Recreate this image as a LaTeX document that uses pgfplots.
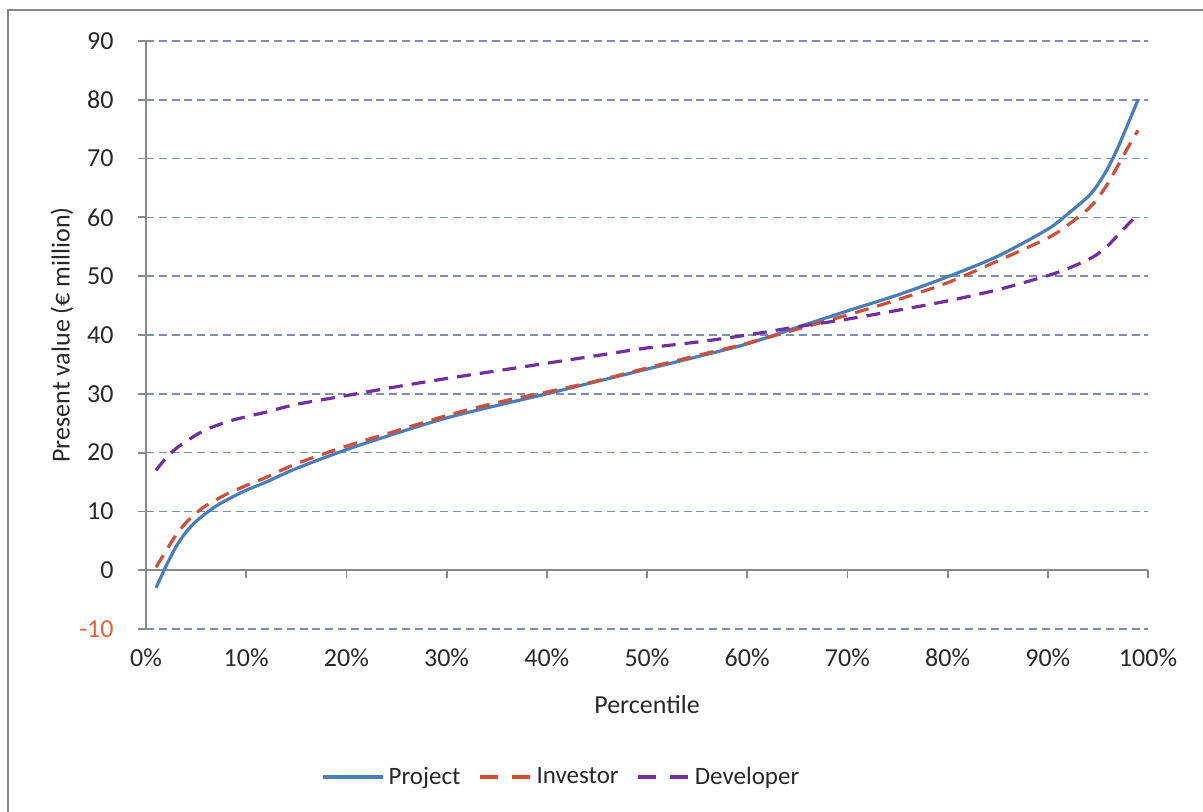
\documentclass[border=0pt]{standalone}
\usepackage{fontspec}
\setmainfont{Carlito}
\usepackage{pgfplots}
\pgfplotsset{compat=1.18}
\definecolor{proj}{RGB}{74,126,187}
\definecolor{inv}{RGB}{205,80,60}
\definecolor{dev}{RGB}{112,48,160}
\definecolor{gridc}{RGB}{125,140,190}
\definecolor{axc}{RGB}{137,137,137}
\definecolor{txt}{RGB}{40,40,40}
\definecolor{negred}{RGB}{228,100,60}
\definecolor{framec}{RGB}{134,134,134}

\pgfplotsset{
  legsolid/.style={legend image code/.code={\draw[##1] (0pt,0pt) -- (30pt,0pt);}},
  legdash/.style={legend image code/.code={\draw[##1, dash pattern=on 9pt off 7pt] (0pt,0pt) -- (25.5pt,0pt);}},
}

\pgfplotstableread{
x y
1 -3.0
2 0.7
3 4.0
4 6.5
5 8.3
6 9.7
7 10.9
8 11.9
10 13.6
12 15.0
15 17.3
20 20.5
25 23.3
30 25.9
35 28.0
40 30.0
45 32.1
50 34.2
55 36.3
60 38.5
65 41.3
70 44.1
75 46.8
80 49.9
85 53.4
90 58.0
92 60.6
94 63.5
95 65.6
96 68.4
97 71.9
98 75.9
99 80.0
}\project

\pgfplotstableread{
x y
1 0.5
2 3.3
3 6.0
4 8.1
5 9.7
6 11.0
8 12.9
10 14.4
12 15.8
15 18.1
20 21.1
25 23.7
30 26.3
35 28.5
40 30.3
45 32.2
50 34.4
55 36.5
60 38.6
65 41.0
70 43.4
75 46.0
80 48.9
85 52.6
90 56.5
92 58.7
94 61.4
95 63.3
96 65.8
97 68.8
98 71.9
99 74.8
}\investor

\pgfplotstableread{
x y
1 17.0
2 19.1
3 20.7
4 21.9
5 23.0
6 23.9
8 25.2
10 26.1
12 26.9
15 28.2
20 29.7
25 31.2
30 32.6
35 33.9
40 35.2
45 36.5
50 37.8
55 38.8
60 40.0
65 41.4
70 42.7
75 44.2
80 45.8
85 47.7
90 50.1
92 51.3
94 52.8
95 53.8
96 55.2
97 57.0
98 58.8
99 60.5
}\developer

\begin{document}
\begin{tikzpicture}
\begin{axis}[name=ax,
  scale only axis, width=501pt, height=294pt,
  xmin=0, xmax=100, ymin=-10, ymax=90,
  axis x line*=middle, axis y line*=left,
  hide obscured x ticks=false, hide obscured y ticks=false,
  axis line style={axc, line width=0.9pt},
  xtick={0,10,...,100}, ytick={-10,0,...,90},
  xticklabels={0\%,10\%,20\%,30\%,40\%,50\%,60\%,70\%,80\%,90\%,100\%},
  yticklabels={\textcolor{negred}{-10},0,10,20,30,40,50,60,70,80,90},
  tick align=outside, major tick length=4pt,
  tick style={axc, line width=0.9pt},
  ymajorgrids,
  grid style={gridc, line width=0.8pt, dash pattern=on 4pt off 2.4pt},
  xticklabel style={font=\fontsize{13}{15}\selectfont, text=txt, anchor=center, inner sep=0pt, yshift=-40pt},
  yticklabel style={font=\fontsize{13}{15}\selectfont, text=txt, anchor=east, inner sep=0pt, xshift=-12pt},
  every axis x label/.style={at={(axis description cs:0.5,-0.1293)}, anchor=center, font=\fontsize{13}{15}\selectfont, text=txt},
  every axis y label/.style={at={(axis description cs:-0.0838,0.5)}, rotate=90, anchor=center, font=\fontsize{13}{15}\selectfont, text=txt},
  xlabel={Percentile},
  ylabel={Present value (€ million)},
  legend columns=3,
  legend style={at={(axis description cs:0.1747,-0.2517)}, anchor=west, draw=none, fill=none,
    inner sep=0pt, font=\fontsize{12.5}{15}\selectfont, text=txt,
    /tikz/every even column/.append style={column sep=7pt}},
]
\addplot[proj, line width=1.6pt, smooth, tension=0.5, legsolid] table {\project};
\addlegendentry{Project}
\addplot[inv, line width=1.6pt, smooth, tension=0.5, dash pattern=on 7pt off 4.5pt, legdash] table {\investor};
\addlegendentry{Investor}
\addplot[dev, line width=1.6pt, smooth, tension=0.5, dash pattern=on 7pt off 4.5pt, legdash] table {\developer};
\addlegendentry{Developer}
\end{axis}
\draw[framec, line width=1.2pt] ([xshift=-69pt,yshift=-95pt]ax.south west) -- ([xshift=-69pt,yshift=309.5pt]ax.south west) -- ([xshift=532pt,yshift=309.5pt]ax.south west);
\pgfresetboundingbox
\path[use as bounding box] ([xshift=-73pt,yshift=-91pt]ax.south west) rectangle ([xshift=528.5pt,yshift=314.5pt]ax.south west);
\end{tikzpicture}
\end{document}
